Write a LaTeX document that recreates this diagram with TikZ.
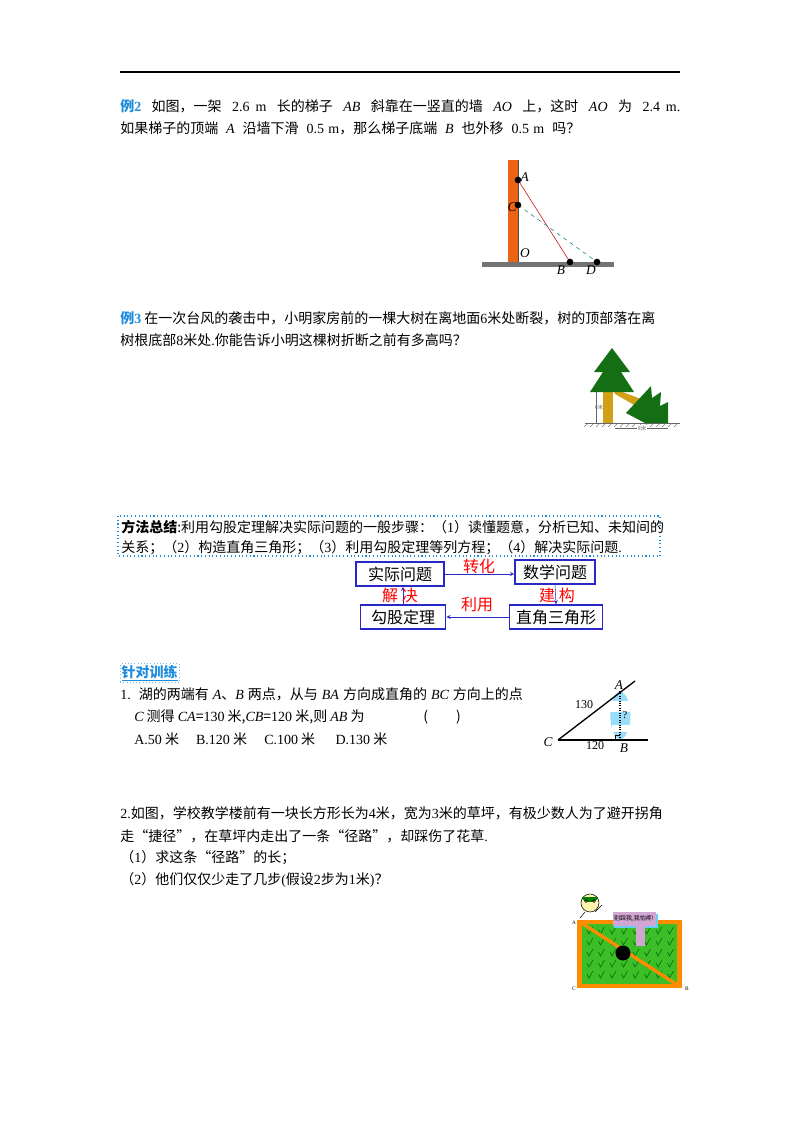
\documentclass[tikz,border=0pt]{standalone}
\usepackage{fontspec}
\setmainfont{Noto Sans CJK SC}
\newfontfamily\tms{Liberation Serif}
\newcommand\iv[1]{{\tms\itshape #1}}
\newcommand\rmn[1]{{\tms #1}}
\newcommand\jline[2]{\makebox[#1][s]{#2}}
\definecolor{exblue}{RGB}{30,140,220}
\definecolor{wallor}{RGB}{235,100,20}
\definecolor{treeg}{RGB}{20,110,20}
\definecolor{trunk}{RGB}{210,160,20}
\definecolor{boxb}{RGB}{40,40,200}
\definecolor{grassg}{RGB}{60,190,40}
\begin{document}
\begin{tikzpicture}[x=0.75pt,y=-0.75pt,
  txt/.style={anchor=west,font=\fontsize{10.5}{12}\selectfont,inner sep=0pt},
  lbl/.style={font=\tms\itshape\fontsize{10}{12}\selectfont,inner sep=1pt},
  fbox/.style={draw=boxb,line width=1.2pt,minimum height=18pt,font=\fontsize{12}{14}\selectfont,inner sep=2pt},
  red/.style={text=red,font=\fontsize{12}{14}\selectfont,inner sep=0pt},
  dot/.style={circle,fill=black,inner sep=0pt,minimum size=5pt}]
\useasboundingbox (0,0) rectangle (800,1132);
\draw[line width=1pt] (120,72) -- (680,72);
% Example 2
\node[txt] (t1) at (120,106) {\jline{420pt}{{\color{exblue}\textbf{例}\rmn{\bfseries 2}}\ \ 如图，一架\ \ \rmn{2.6 m}\ \ 长的梯子\ \ \iv{AB}\ \ 斜靠在一竖直的墙\ \ \iv{AO}\ \ 上，这时\ \ \iv{AO}\ \ 为\ \ \rmn{2.4 m.}}};
\node[txt] (t2) at (120,128) {\jline{345pt}{如果梯子的顶端\ \ \iv{A}\ \ 沿墙下滑\ \ \rmn{0.5 m}，那么梯子底端\ \ \iv{B}\ \ 也外移\ \ \rmn{0.5 m}\ \ 吗？}};
\fill[wallor] (508,160) rectangle (518,262);
\draw[black!70] (518,160) -- (518,262);
\fill[black!55] (482,262) rectangle (614,267);
\coordinate (A) at (518,180); \coordinate (C) at (518,205);
\coordinate (B) at (570,262); \coordinate (D) at (597,262);
\draw[red!80!black] (A) -- (B);
\draw[teal,dashed] (C) -- (D);
\foreach \p in {A,C,B,D} \node[dot] at (\p) {};
\node[lbl,anchor=west] at (519,177) {A};
\node[lbl,anchor=east] at (518,207) {C};
\node[lbl] at (525,253) {O};
\node[lbl] at (561,270) {B};
\node[lbl] at (591,270) {D};
% Example 3
\node[txt] (t3) at (120,318) {{\color{exblue}\textbf{例}\rmn{\bfseries 3}}\ 在一次台风的袭击中，小明家房前的一棵大树在离地面\rmn{6}米处断裂，树的顶部落在离};
\node[txt] (t4) at (120,340) {树根底部\rmn{8}米处\rmn{.}你能告诉小明这棵树折断之前有多高吗？};
\draw[black!60] (585,423) -- (680,423);
\foreach \i in {0,...,15} \draw[black!50] (587+6*\i,424) -- (584+6*\i,427);
\fill[trunk] (603,385) rectangle (613,423);
\fill[trunk] (612,388) -- (615,394) -- (650,414) -- (654,404) -- cycle;
\fill[treeg] (612,348) -- (594,372) -- (603,372) -- (590,392) -- (634,392) -- (621,372) -- (630,372) -- cycle;
\fill[treeg] (626,413) -- (651,386) -- (652,398) -- (661,392) -- (660,406) -- (668,402) -- (668,423) -- (645,423) -- cycle;
\draw[black!60,very thin] (596,392) -- (596,423);
\node[font=\fontsize{4}{5}\selectfont,black!60] at (599,407) {6米};
\draw[black!60,very thin] (615,428) -- (668,428);
\node[font=\fontsize{4}{5}\selectfont,black!60,fill=white,inner sep=0.5pt] at (642,428) {8米};
% Method summary
\draw[exblue,dotted,line width=0.8pt] (118,516) rectangle (660,556);
\node[txt] (m1) at (121,527) {\jline{404pt}{\textbf{方法总结}:利用勾股定理解决实际问题的一般步骤：（\rmn{1}）读懂题意，分析已知、未知间的}};
\node[txt] (m2) at (121,548) {\jline{380pt}{关系；（\rmn{2}）构造直角三角形；（\rmn{3}）利用勾股定理等列方程；（\rmn{4}）解决实际问题\rmn{.}}};
% Flowchart
\node[fbox,minimum width=66pt] (sj) at (400,574) {实际问题};
\node[fbox,minimum width=60pt] (sx) at (555,572) {数学问题};
\node[fbox,minimum width=64pt] (gg) at (403,617) {勾股定理};
\node[fbox,minimum width=70pt] (zj) at (556,617) {直角三角形};
\draw[boxb,-stealth] (sj.east) -- (sx.west|-sj.east);
\draw[boxb,-stealth] (sx.south) -- (zj.north);
\draw[boxb,-stealth] (zj.west) -- (gg.east);
\draw[boxb,-stealth] (gg.north) -- (gg.north|-sj.south);
\node[red] (l1) at (479,566) {转化};
\node[red] (l2) at (557,595) {建\ 构};
\node[red] (l3) at (477,604) {利用};
\node[red] (l4) at (400,595) {解\ 决};
% Training
\node[txt,text=exblue,draw=exblue!60,dotted,inner sep=1pt] (zd) at (120,673) {\textbf{\underline{针对训练}}};
\node[txt] (q1) at (120,694) {\jline{302pt}{\rmn{1.}\ \ 湖的两端有 \iv{A}、\iv{B} 两点，从与 \iv{BA} 方向成直角的 \iv{BC} 方向上的点}};
\node[txt] (q2) at (134,717) {\iv{C} 测得 \iv{CA}=\rmn{130} 米,\iv{CB}=\rmn{120} 米,则 \iv{AB} 为\hspace{4.2em}(\qquad)};
\node[txt] (q3) at (134,739) {\rmn{A.50} 米\quad\ \rmn{B.120} 米\quad\ \rmn{C.100} 米\quad\ \ \rmn{D.130} 米};
\coordinate (TC) at (558,740); \coordinate (TB) at (620,740); \coordinate (TA) at (620,691);
\fill[cyan!40] (620,691) .. controls (634,695) and (634,735) .. (620,740) .. controls (607,735) and (607,695) .. (620,691);
\fill[white] (610,701) rectangle (630,712);
\fill[white] (612,725) rectangle (630,732);
\draw[red,densely dotted,thick] (TA) -- (TB);
\draw[line width=1pt] (TC) -- (635,681);
\draw[line width=1pt] (TC) -- (648,740);
\draw (615,740) -- (615,735) -- (620,735);
\node[lbl] at (619,685) {A};
\node[lbl] at (548,742) {C};
\node[lbl] at (624,748) {B};
\node[font=\tms\fontsize{9}{10}\selectfont] at (584,705) {130};
\node[font=\tms\fontsize{9}{10}\selectfont] at (595,746) {120};
\node[font=\tms\fontsize{8}{10}\selectfont] at (625,715) {?};
% Q2
\node[txt] (r1) at (120,813) {\jline{420pt}{\rmn{2.}如图，学校教学楼前有一块长方形长为\rmn{4}米，宽为\rmn{3}米的草坪，有极少数人为了避开拐角}};
\node[txt] (r2) at (120,836) {走“捷径”，在草坪内走出了一条“径路”，却踩伤了花草\rmn{.}};
\node[txt] (r3) at (120,858) {（\rmn{1}）求这条“径路”的长；};
\node[txt] (r4) at (120,880) {（\rmn{2}）他们仅仅少走了几步\rmn{(}假设\rmn{2}步为\rmn{1}米\rmn{)}？};
\fill[orange!90!yellow] (577,920) rectangle (682,988);
\fill[grassg] (582,924) rectangle (677,984);
\foreach \i in {0,...,7} \foreach \j in {0,...,4}
  \draw[green!40!black,thin] (587+11.5*\i,930+11*\j) -- (589+11.5*\i,934+11*\j) -- (593+11.5*\i,927+11*\j);
\draw[orange!90!yellow,line width=2.5pt] (580,922) -- (679,986);
\fill[cyan!60] (614,914) rectangle (658,928);
\fill[violet!35] (613,912) rectangle (656,926);
\fill[violet!35] (636,926) rectangle (645,946);
\node[font=\fontsize{4.5}{5}\selectfont] at (634,919) {别踩我,我怕疼!};
\fill[black] (623,953) circle (7.5);
\draw[red,line width=1pt] (618,948) -- (628,958) (628,948) -- (618,958);
\fill[yellow!80!orange!30] (590,903) circle (9);
\draw (590,903) circle (9);
\fill[green!50!black] (582,897) arc (180:0:8 and 5) -- cycle;
\draw (586,901) circle (1.5) (594,901) circle (1.5);
\draw (585,912) -- (580,918) (595,912) -- (602,905);
\node[font=\tms\fontsize{4}{5}\selectfont] at (574,923) {A};
\node[font=\tms\fontsize{4}{5}\selectfont] at (574,989) {C};
\node[font=\tms\fontsize{4}{5}\selectfont] at (687,989) {B};
\end{tikzpicture}
\end{document}
